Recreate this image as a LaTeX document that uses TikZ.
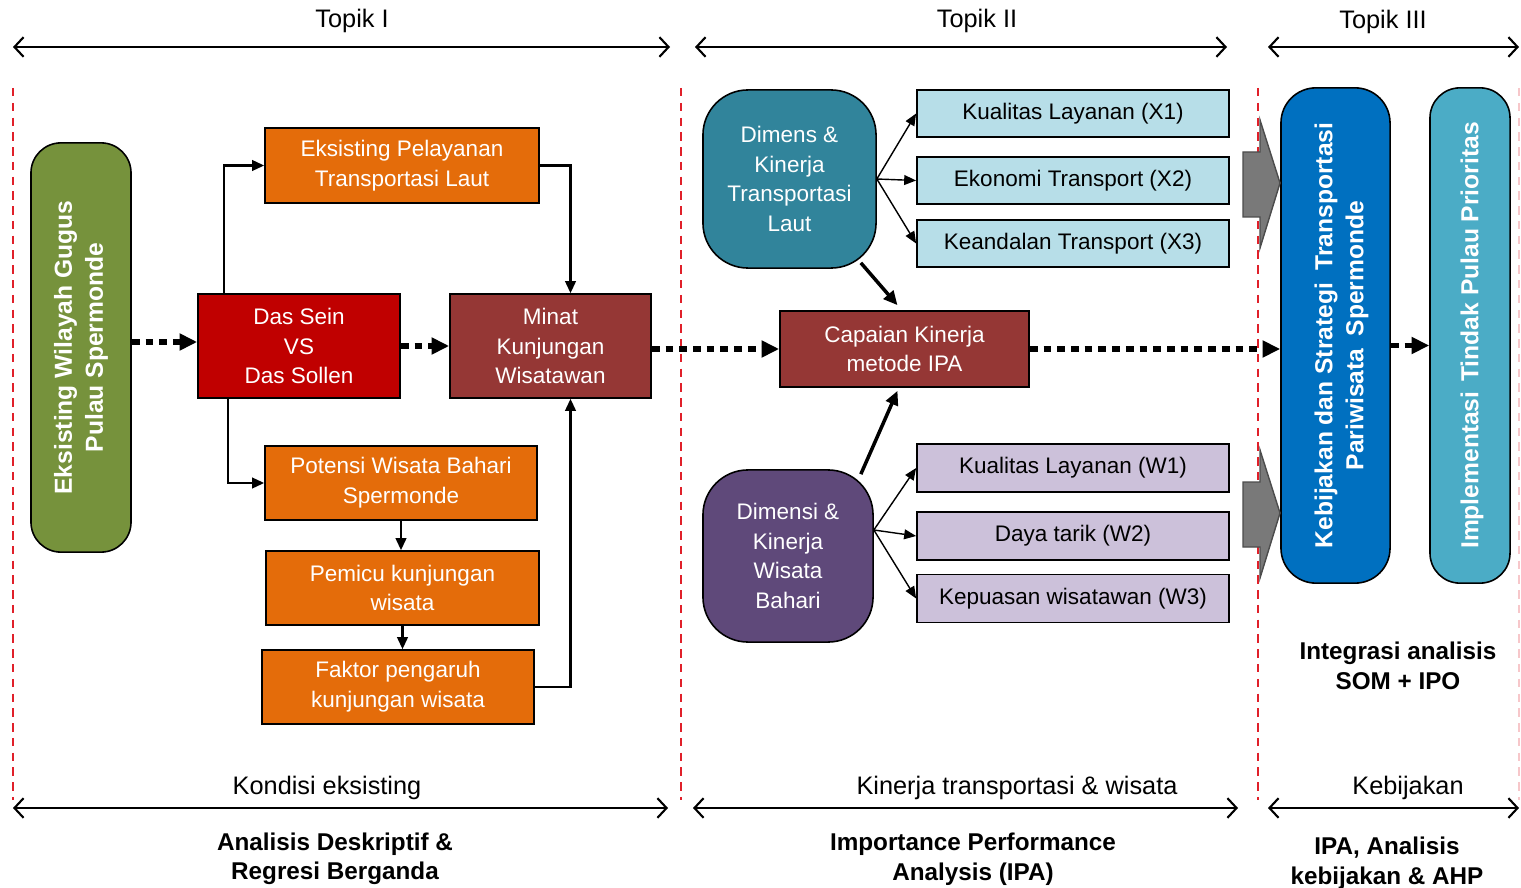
\documentclass[tikz,border=0pt]{standalone}
\usepackage{fontspec}
\setmainfont{Liberation Sans}
\usetikzlibrary{arrows.meta}
\definecolor{olivegrn}{HTML}{76923C}
\definecolor{seinred}{HTML}{C00000}
\definecolor{minatred}{HTML}{953735}
\definecolor{orng}{HTML}{E46C0A}
\definecolor{tealbox}{HTML}{31849B}
\definecolor{purpbox}{HTML}{5F497A}
\definecolor{ltblue}{HTML}{B7DEE8}
\definecolor{ltpurp}{HTML}{CCC1DA}
\definecolor{kebblue}{HTML}{0070C0}
\definecolor{implblue}{HTML}{4BACC6}
\definecolor{sepred}{HTML}{E0202A}
\begin{document}
\begin{tikzpicture}[x=0.01cm,y=-0.01cm,
  txt/.style={font=\fontsize{6.4}{8.5}\selectfont, align=center},
  spantxt/.style={font=\fontsize{7.2}{8.5}\selectfont},
  boldtxt/.style={font=\fontsize{6.9}{8.4}\selectfont\bfseries, align=center},
  vtxt/.style={rotate=90, text=white, font=\fontsize{7}{8.8}\selectfont\bfseries, align=center},
  box/.style={draw=black, line width=0.45pt, inner sep=0pt, text=white, txt},
  attr/.style={box, text=black, minimum width=3.12cm, minimum height=0.47cm},
  flow/.style={-{Triangle[length=3.4pt,width=3pt]}, line width=0.6pt},
  fan/.style={-{Triangle[length=3.4pt,width=2.8pt]}, line width=0.4pt},
  heavy/.style={-{Triangle[length=4pt,width=3.6pt]}, line width=1pt},
  dots/.style={-{Triangle[length=5pt,width=4.6pt]}, line width=1.5pt, dash pattern=on 2.2pt off 1.7pt},
  span/.style={{Straight Barb[length=2.6pt,width=5.6pt]}-{Straight Barb[length=2.6pt,width=5.6pt]}, line width=0.6pt},
  sep/.style={sepred, line width=0.45pt, dash pattern=on 2.4pt off 1.8pt},
  blockarrow/.style={fill=gray!95!black, draw=black!70, line width=0.4pt},
]
\useasboundingbox (0,0) rectangle (1521,888);

% column separators and spans
\foreach \x in {13,681,1258} \draw[sep] (\x,88) -- (\x,800);
\draw[sep, sepred!25] (1519,88) -- (1519,800);
\foreach \a/\b/\y in {13/670/47, 695/1227/47, 1268/1519/47, 13/668/808, 693/1238/808, 1268/1519/808}
  \draw[span] (\a,\y) -- (\b,\y);

\node[spantxt] (topik1) at (352,21) {Topik I};
\node[spantxt] (topik2) at (977,21) {Topik II};
\node[spantxt] (topik3) at (1383,22) {Topik III};
\node[spantxt] (kondisi) at (327,788) {Kondisi eksisting};
\node[spantxt] (kinerja) at (1017,788) {Kinerja transportasi \& wisata};
\node[spantxt] (kebijakan) at (1408,788) {Kebijakan};
\node[boldtxt] (metode1) at (335,859) {Analisis Deskriptif \&\\Regresi Berganda};
\node[boldtxt] (metode2) at (973,859) {Importance Performance\\Analysis (IPA)};
\node[boldtxt] (metode3) at (1387,863) {IPA, Analisis\\kebijakan \& AHP};
\node[boldtxt] (integrasi) at (1398,666) {Integrasi analisis\\SOM + IPO};

% Topik I
\node[box, fill=olivegrn, rounded corners=0.3cm, minimum width=1cm, minimum height=4.09cm] (green) at (81,347.5) {};
\node[vtxt] at (green) {Eksisting Wilayah Gugus\\Pulau Spermonde};
\node[box, fill=seinred, minimum width=2.02cm, minimum height=1.04cm] (dsein) at (299,346) {Das Sein\\VS\\Das Sollen};
\node[box, fill=minatred, minimum width=2.01cm, minimum height=1.04cm] (minat) at (550.5,346) {Minat\\Kunjungan\\Wisatawan};
\node[box, fill=orng, minimum width=2.74cm, minimum height=0.75cm] (eksis) at (402,165.5) {Eksisting Pelayanan\\Transportasi Laut};
\node[box, fill=orng, minimum width=2.72cm, minimum height=0.74cm] (potensi) at (401,483) {Potensi Wisata Bahari\\Spermonde};
\node[box, fill=orng, minimum width=2.73cm, minimum height=0.74cm] (pemicu) at (402.5,588) {Pemicu kunjungan\\wisata};
\node[box, fill=orng, minimum width=2.72cm, minimum height=0.74cm] (faktor) at (398,687) {Faktor pengaruh\\kunjungan wisata};

\draw[dots] (green.east |- 0,342) -- (dsein.west |- 0,342);
\draw[dots] (dsein.east) -- (minat.west);
\draw[flow] ([xshift=-0.75cm]dsein.north) |- (eksis.west);
\draw[flow] (eksis.east) -| ([xshift=0.2cm]minat.north);
\draw[flow] ([xshift=-0.71cm]dsein.south) |- (potensi.west);
\draw[flow] (potensi.south) -- (potensi.south |- pemicu.north);
\draw[flow] (pemicu.south) -- (pemicu.south |- faktor.north);
\draw[flow] (faktor.east) -| ([xshift=0.2cm]minat.south);

% Topik II
\node[box, fill=tealbox, rounded corners=0.45cm, minimum width=1.73cm, minimum height=1.78cm] (trans) at (789.5,179) {Dimens \&\\Kinerja\\Transportasi\\Laut};
\node[box, fill=purpbox, rounded corners=0.45cm, minimum width=1.70cm, minimum height=1.72cm] (wisata) at (788,556) {Dimensi \&\\Kinerja\\Wisata\\Bahari};
\node[box, fill=minatred, minimum width=2.49cm, minimum height=0.76cm] (capaian) at (904.5,349) {Capaian Kinerja\\metode IPA};
\node[attr, fill=ltblue] (x1) at (1073,113.5) {Kualitas Layanan (X1)};
\node[attr, fill=ltblue] (x2) at (1073,180.5) {Ekonomi Transport (X2)};
\node[attr, fill=ltblue] (x3) at (1073,243.5) {Keandalan Transport (X3)};
\node[attr, fill=ltpurp, minimum height=0.48cm] (w1) at (1073,468) {Kualitas Layanan (W1)};
\node[attr, fill=ltpurp, minimum height=0.48cm] (w2) at (1073,536) {Daya tarik (W2)};
\node[attr, fill=ltpurp, minimum height=0.48cm] (w3) at (1073,598.5) {Kepuasan wisatawan (W3)};

\foreach \t in {x1,x2,x3} \draw[fan] (trans.east) -- (\t.west);
\coordinate (wfan) at ([yshift=0.26cm]wisata.east);
\foreach \t in {w1,w2,w3} \draw[fan] (wfan) -- (\t.west);
\draw[heavy] ([xshift=-0.16cm,yshift=0.06cm]trans.south east) -- ([xshift=-0.07cm,yshift=0.05cm]capaian.north);
\draw[heavy] ([xshift=-0.13cm,yshift=-0.05cm]wisata.north east) -- ([xshift=-0.07cm,yshift=-0.03cm]capaian.south);
\draw[dots] (minat.east |- capaian) -- (capaian.west);

% Topik III
\node[box, fill=kebblue, rounded corners=0.35cm, minimum width=1.09cm, minimum height=4.95cm] (keb) at (1335.5,335.5) {};
\node[vtxt] at ([xshift=0.06cm]keb.center) {Kebijakan dan Strategi\hspace{0.5em}Transportasi\\Pariwisata\hspace{0.5em}Spermonde};
\node[box, fill=implblue, rounded corners=0.3cm, minimum width=0.8cm, minimum height=4.95cm] (impl) at (1470,335.5) {};
\node[vtxt] at ([xshift=0.02cm]impl.center) {Implementasi\hspace{0.4em}Tindak Pulau Prioritas};

\draw[blockarrow] (1243,152) -- (1260,152) -- (1260,120) -- (1280,183) -- (1260,248) -- (1260,217) -- (1243,217) -- cycle;
\draw[blockarrow] (1243,482) -- (1260,482) -- (1260,450) -- (1280,513) -- (1260,578) -- (1260,547) -- (1243,547) -- cycle;

\draw[dots] (capaian.east) -- (capaian.east -| keb.west);
\draw[dots] ([yshift=-0.1cm]keb.east) -- ([yshift=-0.1cm]impl.west);
\end{tikzpicture}
\end{document}
